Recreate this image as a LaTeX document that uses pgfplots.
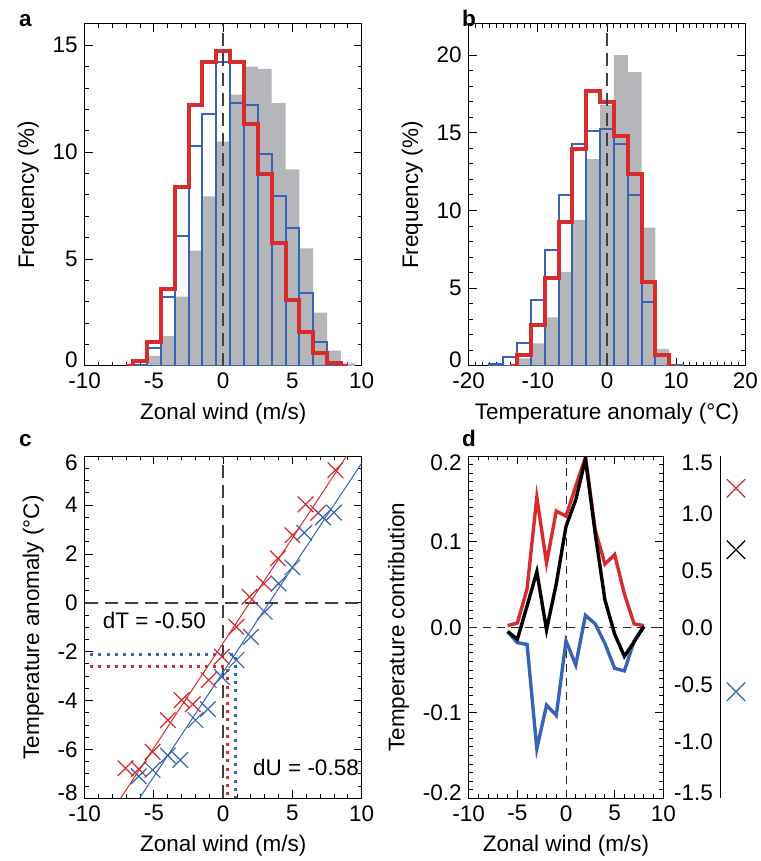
\documentclass[border=0pt]{standalone}
\usepackage{pgfplots}
\pgfplotsset{compat=1.18}
\usepackage{fontspec}
\setmainfont{Liberation Sans}
\setsansfont{Liberation Sans}

\definecolor{cred}{RGB}{216,43,45}
\definecolor{cblue}{RGB}{55,100,180}
\definecolor{cgray}{RGB}{181,182,186}

\pgfplotsset{
  every axis/.append style={
    scale only axis, anchor=south west,
    font=\fontsize{11.25}{13}\selectfont,
    tick align=inside,
    major tick length=4pt, minor tick length=2pt,
    every tick/.style={black, line width=0.5pt},
    axis line style={line width=0.5pt},
  },
  dashes/.style={black!75, line width=0.9pt, dash pattern=on 6.5pt off 3.5pt},
  dots/.style={line width=1.5pt, dash pattern=on 1.5pt off 2.6pt},
  cross/.style={only marks, mark=x, mark size=5.5pt, mark options={line width=0.6pt}},
}
% end labels are pulled inside the frame a little
\newcommand{\up}[1]{\raisebox{3pt}[8pt][0pt]{#1}}
\newcommand{\dn}[1]{\raisebox{-3pt}[8pt][0pt]{#1}}

\begin{document}
\begin{tikzpicture}
\useasboundingbox (0,0) rectangle (380pt,430.5pt);

% a
\begin{axis}[at={(42.35pt,247.5pt)}, width=138.5pt, height=171pt,
  xmin=-10, xmax=10, ymin=0, ymax=16,
  xtick={-10,-5,0,5,10}, xticklabels={-10,-5,0,5,10}, minor x tick num=4,
  ytick={0,5,10,15}, yticklabels={\up{0},5,10,15}, minor y tick num=4,
  xlabel={Zonal wind (m/s)}, ylabel={Frequency (\%)}]
\addplot[fill=cgray, draw=none, const plot] coordinates {
  (-6.5,0.05) (-5.5,0.47) (-4.5,1.4) (-3.5,3.25) (-2.5,5.4) (-1.5,7.94) (-0.5,10.5)
  (0.5,12.7) (1.5,14.0) (2.5,13.9) (3.5,12.3) (4.5,9.2) (5.5,5.5) (6.5,2.5)
  (7.5,0.72) (8.5,0.12) (9.5,0.12)} \closedcycle;
\addplot[ybar interval, draw=cblue, line width=1pt, fill=none] coordinates {
  (-6.5,0.05) (-5.5,0.83) (-4.5,3.25) (-3.5,6.1) (-2.5,10.3) (-1.5,11.8) (-0.5,14.2)
  (0.5,12.3) (1.5,12.23) (2.5,9.9) (3.5,7.94) (4.5,6.45) (5.5,3.4) (6.5,1.1)
  (7.5,0.02) (8.5,0)};
\addplot[const plot mark mid, draw=cred, line width=2pt] coordinates {
  (-7,0) (-6,0.25) (-5,1.14) (-4,3.6) (-3,8.36) (-2,12.2) (-1,14.2) (0,14.73)
  (1,14.2) (2,11.3) (3,9.0) (4,5.75) (5,3.1) (6,1.6) (7,0.6) (8,0.12) (9,0)};
\addplot[dashes] coordinates {(0,0) (0,16)};
\end{axis}
\node[anchor=base west, font=\fontsize{11.25}{13}\selectfont\bfseries] at (6pt,417pt) {a};

% b
\begin{axis}[at={(234.35pt,247.5pt)}, width=138.3pt, height=171pt,
  xmin=-20, xmax=20, ymin=0, ymax=22,
  xtick={-20,-10,0,10,20}, xticklabels={-20,-10,0,10,20}, minor x tick num=9,
  ytick={0,5,10,15,20}, yticklabels={\up{0},5,10,15,20}, minor y tick num=4,
  xlabel={Temperature anomaly (°C)}, ylabel={Frequency (\%)}]
\addplot[fill=cgray, draw=none, const plot] coordinates {
  (-13,0.49) (-11,1.46) (-9,3.13) (-7,6.06) (-5,9.4) (-3,13.3) (-1,16.8)
  (1,20.0) (3,18.9) (5,8.9) (7,1.1) (9,1.1)} \closedcycle;
\addplot[ybar interval, draw=cblue, line width=1pt, fill=none] coordinates {
  (-17,0.13) (-15,0.6) (-13,1.5) (-11,4.24) (-9,7.46) (-7,11.0) (-5,14.3) (-3,15.1)
  (-1,15.23) (1,14.3) (3,11.0) (5,4.14) (7,0.7) (9,0.06) (11,0)};
\addplot[const plot mark mid, draw=cred, line width=2pt] coordinates {
  (-14,0) (-12,0.7) (-10,2.64) (-8,5.64) (-6,9.28) (-4,13.95) (-2,17.68) (0,16.95)
  (2,14.8) (4,12.34) (6,5.42) (8,0.71) (10,0)};
\addplot[dashes] coordinates {(0,0) (0,22)};
\end{axis}
\node[anchor=base west, font=\fontsize{11.25}{13}\selectfont\bfseries] at (227.5pt,417pt) {b};

% c
\begin{axis}[at={(42.35pt,31.35pt)}, width=138.5pt, height=171pt,
  xmin=-10, xmax=10, ymin=-8, ymax=6,
  xtick={-10,-5,0,5,10}, xticklabels={-10,-5,0,5,10}, minor x tick num=4,
  ytick={-8,-6,-4,-2,0,2,4,6}, yticklabels={\up{-8},-6,-4,-2,0,2,4,\dn{6}}, minor y tick num=3,
  xlabel={Zonal wind (m/s)}, ylabel={Temperature anomaly (°C)}]
\addplot[dashes] coordinates {(-10,0) (10,0)};
\addplot[dashes] coordinates {(0,-8) (0,6)};
\addplot[dots, cblue] coordinates {(-9.6,-2.11) (0.9,-2.11) (0.9,-8)};
\addplot[dots, cred] coordinates {(-9.6,-2.62) (0.3,-2.62) (0.3,-8)};
\addplot[cred, line width=0.5pt] coordinates {(-7.41,-8) (8.9,6)};
\addplot[cblue, line width=0.5pt] coordinates {(-6.05,-8) (10,5.72)};
\addplot[cross, cred] coordinates {
  (-7.05,-6.77) (-6.1,-6.8) (-5.1,-6.1) (-4.0,-4.8) (-3.0,-3.98) (-2.2,-4.15)
  (-1.05,-3.16) (-0.1,-2.2) (0.95,-0.98) (1.9,0.25) (2.95,0.79) (3.95,1.82)
  (5.0,2.77) (5.95,4.03) (6.85,3.68) (8.1,5.43)};
\addplot[cross, cblue] coordinates {
  (-6.1,-7.1) (-5.1,-6.84) (-4.0,-6.25) (-3.1,-6.43) (-2.0,-4.8) (-1.1,-4.35)
  (-0.1,-3.03) (0.95,-2.34) (2.0,-1.39) (3.0,-0.37) (4.0,0.79) (5.0,1.45)
  (5.85,2.87) (7.2,3.5) (8.0,3.7)};
\node[anchor=west] at (axis cs:-9.2,-0.71) {dT = -0.50};
\node[anchor=west] at (axis cs:1.65,-6.72) {dU = -0.58};
\end{axis}
\node[anchor=base west, font=\fontsize{11.25}{13}\selectfont\bfseries] at (6pt,207pt) {c};

% d
\begin{axis}[at={(234.35pt,31.35pt)}, width=97.3pt, height=171pt,
  xmin=-10, xmax=10, ymin=-0.2, ymax=0.2,
  xtick={-10,-5,0,5,10}, xticklabels={-10,-5,0,5,10}, minor x tick num=4,
  ytick={-0.2,-0.1,0,0.1,0.2}, yticklabels={\up{-0.2},-0.1,0.0,0.1,\dn{0.2}}, minor y tick num=9,
  xlabel={Zonal wind (m/s)}, ylabel={Temperature contribution}]
\addplot[black!85, line width=0.5pt, dash pattern=on 4pt off 3pt] coordinates {(-10,0) (10,0)};
\addplot[black!85, line width=0.5pt, dash pattern=on 4pt off 3pt] coordinates {(0,-0.2) (0,0.2)};
\addplot[cred, line width=1.7pt] coordinates {
  (-6,0.002) (-5,0.005) (-4,0.045) (-3,0.152) (-2,0.075) (-1,0.136) (0,0.13)
  (1,0.165) (2,0.199) (3,0.114) (4,0.074) (5,0.085) (6,0.039) (7,0.004) (8,0.002)};
\addplot[cblue, line width=1.7pt] coordinates {
  (-6,-0.005) (-5,-0.018) (-4,-0.02) (-3,-0.142) (-2,-0.091) (-1,-0.103) (0,-0.016)
  (1,-0.044) (2,0.014) (3,0.004) (4,-0.019) (5,-0.048) (6,-0.051) (7,-0.016) (8,0.001)};
\addplot[black, line width=1.7pt] coordinates {
  (-6,-0.005) (-5,-0.014) (-4,0.025) (-3,0.065) (-2,-0.003) (-1,0.051) (0,0.118)
  (1,0.149) (2,0.197) (3,0.11) (4,0.032) (5,-0.008) (6,-0.034) (7,-0.017) (8,0.001)};
\end{axis}
\node[anchor=base west, font=\fontsize{11.25}{13}\selectfont\bfseries] at (227.5pt,207pt) {d};

% d, right scale
\begin{axis}[at={(360pt,31.35pt)}, width=20pt, height=171pt,
  xmin=0, xmax=1, ymin=-1.5, ymax=1.5, clip=false,
  hide x axis, axis y line*=left, y axis line style={-},
  ytick={-1.5,-1,-0.5,0,0.5,1,1.5},
  yticklabels={\up{-1.5},-1.0,-0.5,0.0,0.5,1.0,\dn{1.5}},
  major tick length=0pt]
\addplot[only marks, mark=x, mark size=6.5pt, cred, mark options={line width=0.6pt}] coordinates {(0.4,1.22)};
\addplot[only marks, mark=x, mark size=6.5pt, black, mark options={line width=0.6pt}] coordinates {(0.4,0.68)};
\addplot[only marks, mark=x, mark size=6.5pt, cblue, mark options={line width=0.6pt}] coordinates {(0.4,-0.565)};
\end{axis}
\end{tikzpicture}
\end{document}
